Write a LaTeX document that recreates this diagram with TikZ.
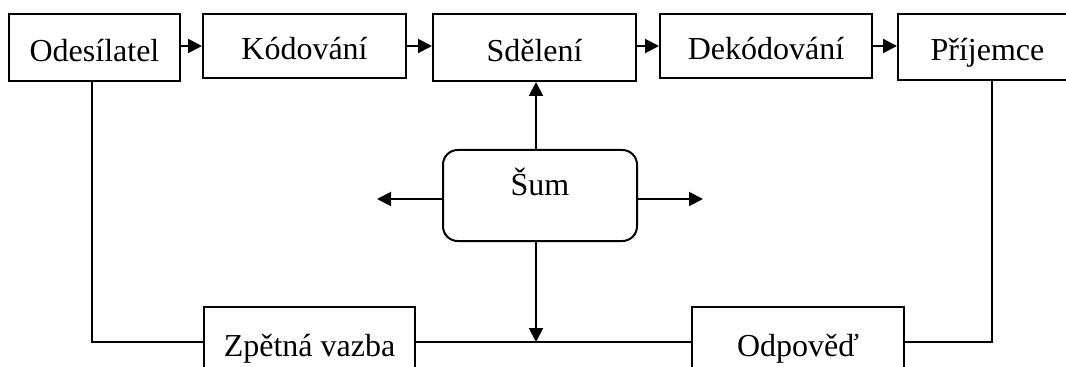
\documentclass[tikz,border=0pt]{standalone}
\usepackage{fontspec}
\setmainfont{Liberation Serif}
\usetikzlibrary{arrows.meta}
\begin{document}
\begin{tikzpicture}[x=0.75pt,y=-0.75pt,
  box/.style={draw,line width=1.5pt,inner sep=0pt,text height=23pt,text depth=2pt,font=\fontsize{24pt}{28pt}\selectfont},
  sumbox/.style={box,rounded corners=11pt,text height=17pt,text depth=17pt},
  link/.style={line width=1.5pt},
  arr/.style={line width=1.5pt,-{Triangle[length=10.5pt,width=10.5pt]}}]
\clip (0,0) rectangle (1066,367);
\fill[white] (0,0) rectangle (1066,367);
% top row
\node[box,minimum width=128.25pt,minimum height=50.25pt] (ode) at (94.5,47.5) {Odesílatel};
\node[box,minimum width=152.25pt,minimum height=48pt] (kod) at (304.5,46) {Kódování};
\node[box,minimum width=152.25pt,minimum height=50.25pt] (sde) at (534.5,47.5) {Sdělení};
\node[box,minimum width=159pt,minimum height=48pt] (dek) at (766,46) {Dekódování};
\node[box,minimum width=134.25pt,minimum height=49.5pt] (pri) at (987.5,47) {Příjemce};
% noise
\node[sumbox,minimum width=145.5pt,minimum height=68.25pt] (sum) at (540,195.5) {Šum};
% bottom row
\node[box,minimum width=158.25pt,minimum height=52.5pt] (zv) at (309.5,342) {Zpětná vazba};
\node[box,minimum width=159pt,minimum height=52.5pt] (odp) at (798,342) {Odpověď};
% coordinates
\coordinate (odeb) at (92,81);
\coordinate (prib) at (992,80);
\coordinate (mid) at (536,342);
\coordinate (suml) at (377,199);
\coordinate (sumr) at (703,199);
% top arrows
\draw[arr] (ode.east |- 0,46) -- (kod.west |- 0,46);
\draw[arr] (kod.east |- 0,46) -- (sde.west |- 0,46);
\draw[arr] (sde.east |- 0,46) -- (dek.west |- 0,46);
\draw[arr] (dek.east |- 0,46) -- (pri.west |- 0,46);
% feedback loop
\draw[link] (odeb) |- (zv.west);
\draw[link] (zv.east) -- (odp.west);
\draw[link] (odp.east) -| (prib);
% noise arrows
\draw[arr] (sum.north -| mid) -- (sde.south -| mid);
\draw[arr] (sum.south -| mid) -- (mid);
\draw[arr] (sum.west |- suml) -- (suml);
\draw[arr] (sum.east |- sumr) -- (sumr);
\end{tikzpicture}
\end{document}
